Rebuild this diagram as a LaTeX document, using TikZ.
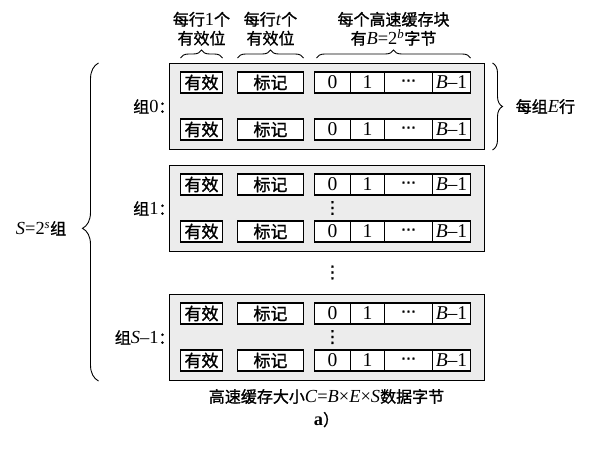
\documentclass[tikz,border=0pt]{standalone}
\usepackage{fontspec}
\setmainfont{Liberation Serif}[Scale=1.15]
\newfontfamily\cjk[FakeBold=1.2]{Noto Sans CJK SC}
\newfontfamily\sym[FakeBold=1.5]{DejaVu Sans}
\newcommand\ltn[1]{{\rmfamily#1}}
\usetikzlibrary{positioning,calc}
\usetikzlibrary{decorations.pathreplacing}
\tikzset{
	%Define style for the box of one set
	setbox/.style={
		rectangle,
		draw=black, line width=1pt,
		fill=gray!15,
		minimum width=315pt,
		minimum height=86pt},
	%Define style for one field of a line
	cell/.style={
		rectangle,
		draw=black, line width=1.2pt,
		fill=white,
		outer sep=0pt,
		inner sep=0pt,
		minimum height=21pt,
		font=\cjk\fontsize{17}{19}\selectfont},
	% Define brace style
	brc/.style={
		decorate,
		decoration={brace, amplitude=#1},
		line width=0.9pt},
	brc/.default=8pt,
	% Define text style
	lbl/.style={
		font=\cjk\fontsize{16}{19}\selectfont,
		align=center},
	% vertical dots
	vdot/.style={
		inner sep=0pt,
		font=\sym\fontsize{17}{19}\selectfont}
}
\begin{document}
\begin{tikzpicture}[x=1pt, y=-1pt]
	\useasboundingbox (0,0) rectangle (591,450);
	
	\node[setbox] (set0) at (326.5,106.5) {};
	\node[setbox, below=15pt of set0] (set1) {};
	\node[setbox, below=42pt of set1] (set2) {};
	
	\node[lbl, left=-10pt of set0] (lab0) {组\ltn{0}：};
	\node[lbl, left=-10pt of set1] (lab1) {组\ltn{1}：};
	\node[lbl, left=-10pt of set2] (lab2) {组\ltn{\textit{S}–1}：};
	
	\foreach \st in {0,1,2}{
		\foreach \row/\dy in {a/24,b/-23}{
			\node[cell, minimum width=42pt, anchor=west] (v\st\row) at ([xshift=12pt,yshift=\dy pt]set\st.west) {有效};
			\node[cell, minimum width=66pt, right=15pt of v\st\row] (t\st\row) {标记};
			\node[cell, minimum width=36pt, right=11pt of t\st\row] (b\st\row0) {\ltn{0}};
			\node[cell, minimum width=34pt, right=0pt of b\st\row0] (b\st\row1) {\ltn{1}};
			\node[cell, minimum width=48pt, right=0pt of b\st\row1] (b\st\row2) {{\sym\fontsize{15}{17}\selectfont ⋯}};
			\node[cell, minimum width=38pt, right=0pt of b\st\row2] (b\st\row3) {\ltn{\textit{B}–1}};
		}
	}
	
	\node[vdot] (dots1) at ($(b1a0)!0.5!(b1b0)$) {⋮};
	\node[vdot] (dots2) at ($(b2a0)!0.5!(b2b0)$) {⋮};
	\node[vdot] (dots3) at ($(b1b0)!0.5!(b2a0)$) {⋮};
	
	\draw[brc] ([yshift=14pt]v0a.north west) -- ([yshift=14pt]v0a.north east)
		node[lbl, midway, above=8pt] {每行\ltn{1}个\\有效位};
	\draw[brc] ([yshift=14pt]t0a.north west) -- ([yshift=14pt]t0a.north east)
		node[lbl, midway, above=8pt] {每行\ltn{\textit{t}}个\\有效位};
	\draw[brc] ([yshift=14pt,xshift=2pt]b0a0.north west) -- ([yshift=14pt]b0a3.north east)
		node[lbl, midway, above=8pt] {每个高速缓存块\\有\ltn{\textit{B}=2\textsuperscript{\textit{b}}}字节};
	
	\draw[brc=10pt] ([xshift=8pt]set0.north east) -- ([xshift=8pt]set0.south east)
		node[lbl, midway, right=19pt] {每组\ltn{\textit{E}}行};
	\draw[brc=16pt, decoration={aspect=0.48}] ([xshift=-70pt]set2.south west) -- ([xshift=-70pt]set0.north west)
		node[lbl, pos=0.48, left=28pt] {\ltn{\textit{S}=2\textsuperscript{\textit{s}}}组};
	
	\node[lbl, below=4pt of set2] (size) {高速缓存大小\ltn{\textit{C}=\textit{B}×\textit{E}×\textit{S}}数据字节};
	\node[lbl, below=0pt of size] (sub) {\ltn{\textbf{a}}）};
	
\end{tikzpicture}
\end{document}
